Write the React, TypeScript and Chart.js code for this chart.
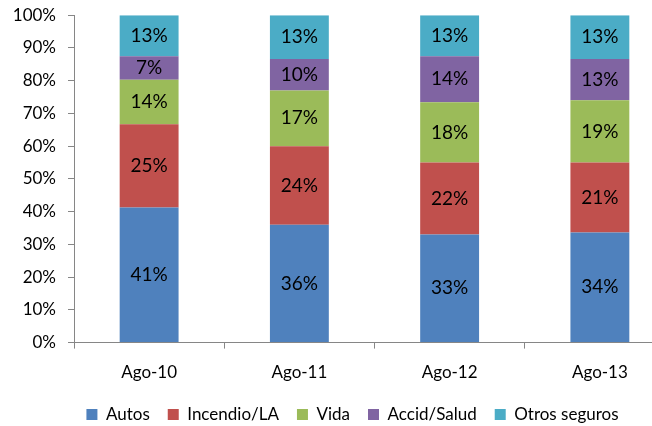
import React, { useEffect, useRef } from "react";
import { Chart, registerables } from "chart.js";

Chart.register(...registerables);

const categories = ["Ago-10", "Ago-11", "Ago-12", "Ago-13"];
const autos = [41.3, 36.0, 33.0, 33.6];
const incendio = [25.4, 24.0, 22.0, 21.4];
const vida = [13.6, 17.0, 18.4, 19.0];
const accid = [7.2, 9.6, 14.1, 12.6];
const otros = [12.5, 13.4, 12.5, 13.4];
const yTicks = [0, 10, 20, 30, 40, 50, 60, 70, 80, 90, 100];

const FONT = "Lato, 'Open Sans', sans-serif";

const labelPlugin = {
  id: "segLabels",
  afterDatasetsDraw(chart: any) {
    const ctx = chart.ctx;
    ctx.save();
    ctx.font = `19px ${FONT}`;
    ctx.fillStyle = "#000";
    ctx.textAlign = "center";
    ctx.textBaseline = "middle";
    chart.data.datasets.forEach((ds: any, i: number) => {
      const meta = chart.getDatasetMeta(i);
      meta.data.forEach((bar: any, j: number) => {
        const v = ds.data[j];
        const y = (bar.y + bar.base) / 2;
        ctx.fillText(Math.round(v) + "%", bar.x, y);
      });
    });
    ctx.restore();
  },
};

export default function App() {
  const ref = useRef<HTMLCanvasElement>(null);
  useEffect(() => {
    const c = ref.current!;
    const chart = new Chart(c, {
      type: "bar",
      data: {
        labels: categories,
        datasets: [
          { label: "Autos", data: autos, backgroundColor: "#4F81BD" },
          { label: "Incendio/LA", data: incendio, backgroundColor: "#C0504D" },
          { label: "Vida", data: vida, backgroundColor: "#9BBB59" },
          { label: "Accid/Salud", data: accid, backgroundColor: "#8064A2" },
          { label: "Otros seguros", data: otros, backgroundColor: "#4BACC6" },
        ],
      },
      options: {
        responsive: false,
        animation: false,
        devicePixelRatio: 1,
        layout: { padding: { top: 7, right: 0, left: 0, bottom: -7 } },
        datasets: { bar: { categoryPercentage: 0.8, barPercentage: 0.49 } },
        plugins: {
          legend: {
            position: "bottom",
            labels: {
              boxWidth: 11,
              boxHeight: 11,
              padding: 18,
              color: "#000",
              font: { family: FONT, size: 17 },
            },
          },
          tooltip: { enabled: false },
        },
        scales: {
          x: {
            stacked: true,
            afterFit(scale: any) {
              scale.height = scale.height - 9;
            },
            grid: {
              drawOnChartArea: false,
              drawTicks: true,
              tickLength: 6,
              color: "#868686",
              offset: true,
            },
            border: { color: "#868686", width: 1 },
            ticks: { color: "#000", font: { family: FONT, size: 17 }, padding: 14 },
          },
          y: {
            stacked: true,
            min: 0,
            max: 100,
            afterBuildTicks(scale: any) {
              scale.ticks = yTicks.map((v) => ({ value: v }));
            },
            afterFit(scale: any) {
              scale.width = 74;
            },
            grid: {
              drawOnChartArea: false,
              drawTicks: true,
              tickLength: 6,
              color: "#868686",
            },
            border: { color: "#868686", width: 1 },
            ticks: {
              color: "#000",
              font: { family: FONT, size: 17 },
              padding: 12,
              callback: (v: any) => v + "%",
            },
          },
          yRight: {
            position: "right",
            min: 0,
            max: 100,
            afterFit(scale: any) {
              scale.width = 30;
            },
            grid: { display: false },
            border: { display: false },
            ticks: { display: false },
          },
        },
      },
      plugins: [labelPlugin],
    });
    return () => chart.destroy();
  }, []);
  return (
    <div style={{ position: "fixed", left: 0, top: 0, width: 652, height: 426, overflow: "hidden", background: "#fff" }}>
      <canvas
        ref={ref}
        width={705}
        height={433}
        style={{ display: "block", position: "absolute", left: 0, top: -7, width: 705, height: 433 }}
      />
    </div>
  );
}
